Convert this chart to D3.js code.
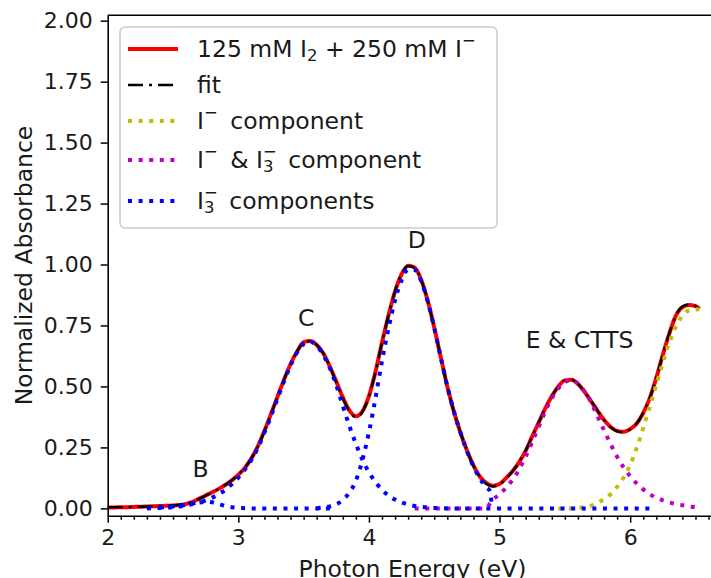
<!DOCTYPE html>
<html>
<head>
<meta charset="utf-8">
<script src="https://cdn.jsdelivr.net/npm/d3@7"></script>
<style>
  body { margin: 0; background: #fff; }
  svg { font-family: "DejaVu Sans", sans-serif; }
</style>
</head>
<body>
<svg id="chart" width="711" height="578"></svg>
<script>
// photon energy grid of the measured spectrum (eV)
const energy = [
  2.00, 2.05, 2.10, 2.15, 2.20, 2.25, 2.30, 2.35, 2.40, 2.45,
  2.50, 2.55, 2.60, 2.65, 2.70, 2.75, 2.80, 2.85, 2.90, 2.95,
  3.00, 3.05, 3.10, 3.15, 3.20, 3.25, 3.30, 3.35, 3.40, 3.45,
  3.50, 3.55, 3.60, 3.65, 3.70, 3.75, 3.80, 3.85, 3.90, 3.95,
  4.00, 4.05, 4.10, 4.15, 4.20, 4.25, 4.30, 4.35, 4.40, 4.45,
  4.50, 4.55, 4.60, 4.65, 4.70, 4.75, 4.80, 4.85, 4.90, 4.95,
  5.00, 5.05, 5.10, 5.15, 5.20, 5.25, 5.30, 5.35, 5.40, 5.45,
  5.50, 5.55, 5.60, 5.65, 5.70, 5.75, 5.80, 5.85, 5.90, 5.95,
  6.00, 6.05, 6.10, 6.15, 6.20, 6.25, 6.30, 6.35, 6.40, 6.45,
  6.50, 6.53
];
// 125 mM I2 + 250 mM I- (normalized)
const measured = [
  0.004, 0.004, 0.005, 0.005, 0.006, 0.007, 0.008, 0.009, 0.010, 0.011,
  0.012, 0.014, 0.018, 0.027, 0.040, 0.053, 0.066, 0.080, 0.096, 0.115,
  0.138, 0.166, 0.205, 0.255, 0.318, 0.387, 0.458, 0.528, 0.592, 0.643,
  0.682, 0.686, 0.670, 0.636, 0.583, 0.520, 0.455, 0.402, 0.378, 0.398,
  0.460, 0.560, 0.680, 0.792, 0.890, 0.960, 0.995, 0.988, 0.938, 0.852,
  0.742, 0.620, 0.500, 0.398, 0.312, 0.238, 0.176, 0.130, 0.104, 0.093,
  0.100, 0.124, 0.153, 0.190, 0.236, 0.295, 0.352, 0.410, 0.460, 0.500,
  0.525, 0.527, 0.510, 0.478, 0.440, 0.400, 0.362, 0.334, 0.318, 0.314,
  0.325, 0.348, 0.392, 0.452, 0.535, 0.630, 0.718, 0.790, 0.825, 0.834,
  0.829, 0.818
];
const fitted = [
  0.005, 0.005, 0.005, 0.006, 0.006, 0.007, 0.008, 0.009, 0.010, 0.011,
  0.012, 0.015, 0.019, 0.027, 0.039, 0.052, 0.066, 0.080, 0.097, 0.116,
  0.139, 0.167, 0.205, 0.254, 0.316, 0.386, 0.457, 0.528, 0.592, 0.644,
  0.681, 0.686, 0.671, 0.637, 0.582, 0.517, 0.452, 0.398, 0.374, 0.396,
  0.458, 0.559, 0.680, 0.793, 0.891, 0.961, 0.994, 0.986, 0.936, 0.851,
  0.741, 0.619, 0.500, 0.398, 0.312, 0.237, 0.175, 0.128, 0.100, 0.090,
  0.098, 0.122, 0.152, 0.190, 0.237, 0.295, 0.353, 0.410, 0.460, 0.500,
  0.525, 0.528, 0.511, 0.479, 0.441, 0.401, 0.362, 0.333, 0.316, 0.312,
  0.324, 0.348, 0.392, 0.453, 0.536, 0.631, 0.719, 0.792, 0.828, 0.836,
  0.830, 0.819
];

// I3- components
const bandBEnergy = [2.30, 2.35, 2.40, 2.45, 2.50, 2.55, 2.60, 2.65, 2.70, 2.75,
  2.80, 2.85, 2.90, 2.95, 3.00, 3.05, 3.10, 3.75];
const bandBValues = [0.000, 0.001, 0.002, 0.003, 0.005, 0.008, 0.012, 0.018, 0.024, 0.027,
  0.025, 0.018, 0.010, 0.005, 0.002, 0.001, 0.000, 0.000];

const bandCEnergy = [2.40, 2.45, 2.50, 2.55, 2.60, 2.65, 2.70, 2.75, 2.80, 2.85,
  2.90, 2.95, 3.00, 3.05, 3.10, 3.15, 3.20, 3.25, 3.30, 3.35,
  3.40, 3.45, 3.50, 3.55, 3.60, 3.65, 3.70, 3.75, 3.80, 3.85,
  3.90, 3.95, 4.00, 4.05, 4.10, 4.15, 4.20, 4.25, 4.30, 4.35,
  4.40, 4.45, 4.50, 4.55, 4.60, 6.15];
const bandCValues = [0.004, 0.006, 0.008, 0.011, 0.015, 0.020, 0.025, 0.033, 0.044, 0.058,
  0.076, 0.099, 0.126, 0.159, 0.199, 0.249, 0.311, 0.378, 0.450, 0.521,
  0.586, 0.639, 0.674, 0.684, 0.667, 0.630, 0.576, 0.505, 0.420, 0.338,
  0.265, 0.200, 0.148, 0.108, 0.076, 0.053, 0.036, 0.024, 0.016, 0.010,
  0.006, 0.004, 0.002, 0.001, 0.000, 0.000];

const bandDEnergy = [3.60, 3.65, 3.70, 3.75, 3.80, 3.85, 3.90, 3.95, 4.00, 4.05,
  4.10, 4.15, 4.20, 4.25, 4.30, 4.35, 4.40, 4.45, 4.50, 4.55,
  4.60, 4.65, 4.70, 4.75, 4.80, 4.85, 4.90, 4.93, 4.94];
const bandDValues = [0.001, 0.004, 0.008, 0.016, 0.035, 0.064, 0.113, 0.198, 0.312, 0.452,
  0.604, 0.739, 0.854, 0.936, 0.979, 0.978, 0.932, 0.848, 0.740, 0.619,
  0.500, 0.398, 0.312, 0.236, 0.172, 0.122, 0.086, 0.068, 0.000];

// I- & I3- component
const mixedEnergy = [4.35, 4.90, 4.93, 4.95, 5.00, 5.05, 5.10, 5.15, 5.20, 5.25,
  5.30, 5.35, 5.40, 5.45, 5.50, 5.55, 5.60, 5.65, 5.70, 5.75,
  5.80, 5.85, 5.90, 5.95, 6.00, 6.05, 6.10, 6.15, 6.20, 6.25,
  6.30, 6.35, 6.40, 6.45, 6.50];
const mixedValues = [0.000, 0.000, 0.024, 0.036, 0.058, 0.085, 0.118, 0.160, 0.212, 0.272,
  0.335, 0.398, 0.452, 0.492, 0.518, 0.526, 0.512, 0.480, 0.435, 0.378,
  0.320, 0.264, 0.212, 0.168, 0.132, 0.102, 0.078, 0.058, 0.044, 0.033,
  0.024, 0.018, 0.013, 0.008, 0.005];

// I- component
const iodideEnergy = [5.45, 5.55, 5.60, 5.65, 5.70, 5.75, 5.80, 5.85, 5.90, 5.95,
  6.00, 6.05, 6.10, 6.15, 6.20, 6.25, 6.30, 6.35, 6.40, 6.45,
  6.50, 6.53];
const iodideValues = [0.000, 0.000, 0.002, 0.005, 0.011, 0.022, 0.038, 0.058, 0.088, 0.127,
  0.178, 0.248, 0.330, 0.418, 0.508, 0.598, 0.680, 0.745, 0.790, 0.812,
  0.817, 0.815];

const xTicks = [2, 3, 4, 5, 6];
const xMinorTicks = d3.range(20, 67).map(d => d / 10).filter(d => d % 1 !== 0);
const yTicks = [0, 0.25, 0.5, 0.75, 1.0, 1.25, 1.5, 1.75, 2.0];

const peakLabels = [
  { text: 'B', e: 2.71, v: 0.13 },
  { text: 'C', e: 3.52, v: 0.748 },
  { text: 'D', e: 4.366, v: 1.066 },
  { text: 'E & CTTS', e: 5.613, v: 0.656 }
];

const margin = { left: 107.7, top: 15.3 };
const width = 609.6;
const height = 500.4;
const textColor = '#1a1a1a';

const svg = d3.select('#chart');

const x = d3.scaleLinear().domain([2, 6.667]).range([margin.left, margin.left + width]);
const y = d3.scaleLinear().domain([-0.03, 2.022]).range([margin.top + height, margin.top]);

const pairs = (es, vs) => es.map((e, i) => [e, vs[i]]);
const line = d3.line()
  .x(d => x(d[0]))
  .y(d => y(d[1]))
  .curve(d3.curveMonotoneX);

const series = [
  { data: pairs(energy, measured), color: '#ff0000', width: 4, dash: null },
  { data: pairs(energy, fitted), color: '#000000', width: 2.4, dash: '15,6,3,6' },
  { data: pairs(iodideEnergy, iodideValues), color: '#bfbf00', width: 4, dash: '4,6.6' },
  { data: pairs(mixedEnergy, mixedValues), color: '#bf00bf', width: 4, dash: '4,6.6' },
  { data: pairs(bandBEnergy, bandBValues), color: '#0000ff', width: 4, dash: '4,6.6' },
  { data: pairs(bandCEnergy, bandCValues), color: '#0000ff', width: 4, dash: '4,6.6' },
  { data: pairs(bandDEnergy, bandDValues), color: '#0000ff', width: 4, dash: '4,6.6' }
];

svg.append('g')
  .selectAll('path')
  .data(series)
  .enter()
  .append('path')
  .attr('d', d => line(d.data))
  .attr('fill', 'none')
  .attr('stroke', d => d.color)
  .attr('stroke-width', d => d.width)
  .attr('stroke-dasharray', d => d.dash)
  .attr('stroke-linejoin', 'round');

// axes
svg.append('g')
  .attr('transform', `translate(${margin.left},0)`)
  .call(d3.axisLeft(y).tickValues(yTicks).tickFormat(d3.format('.2f'))
    .tickSize(7).tickPadding(8).tickSizeOuter(0));

svg.append('g')
  .attr('transform', `translate(0,${margin.top + height})`)
  .call(d3.axisBottom(x).tickValues(xTicks).tickFormat(d3.format('d'))
    .tickSize(7).tickPadding(7).tickSizeOuter(0));

svg.append('g')
  .attr('transform', `translate(0,${margin.top + height})`)
  .call(d3.axisBottom(x).tickValues(xMinorTicks).tickFormat('')
    .tickSize(4).tickSizeOuter(0))
  .select('.domain').remove();

svg.selectAll('.tick line').attr('stroke', '#000').attr('stroke-width', 1.5);
svg.selectAll('.domain').attr('stroke', '#000').attr('stroke-width', 1.6);
svg.selectAll('.tick text')
  .attr('fill', textColor)
  .attr('font-size', 22)
  .attr('font-family', '"DejaVu Sans", sans-serif');

// top spine
svg.append('line')
  .attr('x1', margin.left).attr('x2', margin.left + width)
  .attr('y1', margin.top).attr('y2', margin.top)
  .attr('stroke', '#000').attr('stroke-width', 1.6);

// axis labels
svg.append('text')
  .attr('x', margin.left + width / 2)
  .attr('y', 577)
  .attr('text-anchor', 'middle')
  .attr('font-size', 23.5)
  .attr('fill', textColor)
  .text('Photon Energy (eV)');

svg.append('text')
  .attr('transform', `translate(31.5,${margin.top + height / 2}) rotate(-90)`)
  .attr('text-anchor', 'middle')
  .attr('font-size', 23.5)
  .attr('fill', textColor)
  .text('Normalized Absorbance');

// peak labels
svg.append('g')
  .selectAll('text')
  .data(peakLabels)
  .enter()
  .append('text')
  .attr('x', d => x(d.e))
  .attr('y', d => y(d.v))
  .attr('text-anchor', 'middle')
  .attr('font-size', 23.5)
  .attr('fill', textColor)
  .text(d => d.text);

// legend
const legendRows = [
  { color: '#ff0000', width: 4, dash: null, y: 49,
    parts: [{ t: '125 mM I' }, { t: '2', sub: true }, { t: ' + 250 mM I' }, { t: '\u2212', sup: true }] },
  { color: '#000000', width: 2.4, dash: '15,6,3,6', y: 85,
    parts: [{ t: 'fit' }] },
  { color: '#bfbf00', width: 4, dash: '4,6.6', y: 121,
    parts: [{ t: 'I' }, { t: '\u2212', sup: true }, { t: ' component', gap: 5 }] },
  { color: '#bf00bf', width: 4, dash: '4,6.6', y: 160,
    parts: [{ t: 'I' }, { t: '\u2212', sup: true }, { t: ' & I', gap: 5 }, { t: '3', sub: true },
      { t: '\u2212', sup: true, stack: true }, { t: ' component', gap: 4 }] },
  { color: '#0000ff', width: 4, dash: '4,6.6', y: 201,
    parts: [{ t: 'I' }, { t: '3', sub: true }, { t: '\u2212', sup: true, stack: true },
      { t: ' components', gap: 4 }] }
];

const legend = svg.append('g');
legend.append('rect')
  .attr('x', 120).attr('y', 27)
  .attr('width', 377).attr('height', 201)
  .attr('rx', 5)
  .attr('fill', '#fff').attr('fill-opacity', 0.8)
  .attr('stroke', '#cccccc').attr('stroke-width', 1.5);

legendRows.forEach(row => {
  legend.append('line')
    .attr('x1', 128).attr('x2', 178)
    .attr('y1', row.y).attr('y2', row.y)
    .attr('stroke', row.color)
    .attr('stroke-width', row.width)
    .attr('stroke-dasharray', row.dash);

  const label = legend.append('text')
    .attr('x', 197)
    .attr('y', row.y + 8)
    .attr('font-size', 23.5)
    .attr('fill', textColor);

  let shift = 0;
  let prev = null;
  row.parts.forEach(p => {
    const target = p.sub ? 4 : p.sup ? -11 : 0;
    const span = label.append('tspan')
      .attr('dy', target - shift)
      .attr('font-size', (p.sub || p.sup) ? 16.5 : 23.5)
      .text(p.t);
    if (p.stack && prev) span.attr('dx', -prev.node().getComputedTextLength());
    else if (p.gap) span.attr('dx', p.gap);
    shift = target;
    prev = span;
  });
});
</script>
</body>
</html>
